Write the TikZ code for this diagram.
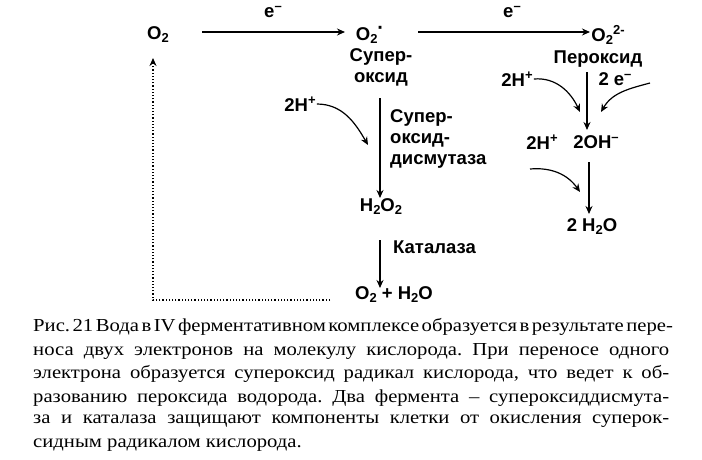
\documentclass[tikz,border=0pt]{standalone}
\usepackage{fontspec}
\setmainfont{Liberation Serif}
\newfontfamily\dsans{Liberation Sans}
\newfontfamily\capfont[FakeStretch=1.13]{Liberation Serif}
\usetikzlibrary{arrows.meta}
\newcommand\dn[1]{\raisebox{-3pt}{\fontsize{13}{13}\selectfont #1}}
\newcommand\up[1]{\raisebox{7pt}{\fontsize{13}{13}\selectfont #1}}
\newcommand\capline[1]{\spaceskip=3.5pt plus 20pt minus 1pt\relax\makebox[636pt][s]{#1}}
\begin{document}
\begin{tikzpicture}[x=1pt,y=-1pt,
  lab/.style={font=\dsans\bfseries\fontsize{18.5}{21}\selectfont,inner sep=1pt},
  arr/.style={-{Stealth[length=8pt,width=7pt]},line width=1.2pt},
  captxt/.style={font=\capfont\fontsize{18.3}{21}\selectfont\frenchspacing,anchor=west,inner sep=0pt}]
\fill[white] (0,0) rectangle (702,459);
\node[lab] (o2) at (158,35) {O\dn{2}};
\node[lab] (o2r) at (370,35) {O\dn{2}\raisebox{6pt}{\fontsize{20}{20}\selectfont·}};
\node[lab] (o2p) at (608,35) {O\dn{2}\up{2-}};
\node[lab,align=center] (sup) at (381,67) {Супер-\\оксид};
\node[lab] (per) at (598,59) {Пероксид};
\node[lab] (h1) at (300,104) {2H\up{+}};
\node[lab,align=left,anchor=west] (sod) at (389,139) {Супер-\\оксид-\\дисмутаза};
\node[lab] (h2o2) at (381,207) {H\dn{2}O\dn{2}};
\node[lab,anchor=west] (kat) at (392,247) {Каталаза};
\node[lab] (prod) at (394,295) {O\dn{2} + H\dn{2}O};
\node[lab] (h2) at (517,79) {2H\up{+}};
\node[lab] (e2) at (615,79) {2 e\up{–}};
\node[lab] (h3) at (542,142) {2H\up{+}};
\node[lab] (oh) at (596,142) {2OH\up{–}};
\node[lab] (w) at (592,227) {2 H\dn{2}O};
\node[lab] (e1) at (273,12) {e\up{–}};
\node[lab] (e3) at (512,12) {e\up{–}};
\coordinate (a1s) at (202,32); \coordinate (a1e) at (345,32);
\coordinate (a2s) at (418,32); \coordinate (a2e) at (590,32);
\draw[arr] (a1s) -- (a1e);
\draw[arr] (a2s) -- (a2e);
\draw[arr] (380,98) -- (380,198);
\draw[arr] (380,240) -- (380,288);
\draw[arr] (h1.east) to[out=0,in=120] (368,145);
\draw[arr] (587,72) -- (587,130);
\draw[arr] (h2.east) to[out=5,in=115] (580,112);
\draw[arr] (650,83) to[out=195,in=60] (601,112);
\draw[arr] (589,162) -- (589,214);
\draw[arr] (530,169) to[out=5,in=125] (580,192);
\draw[arr,dotted,line width=1.3pt] (330,300) -- (153,300) -- (153,58);
\node[captxt] (c1) at (33,327) {\capline{Рис. 21 Вода в IV ферментативном комплексе образуется в результате пере-}};
\node[captxt] (c2) at (33,351) {\capline{носа двух электронов на молекулу кислорода. При переносе одного}};
\node[captxt] (c3) at (33,374) {\capline{электрона образуется супероксид радикал кислорода, что ведет к об-}};
\node[captxt] (c4) at (33,398) {\capline{разованию пероксида водорода. Два фермента – супероксиддисмута-}};
\node[captxt] (c5) at (33,421) {\capline{за и каталаза защищают компоненты клетки от окисления суперок-}};
\node[captxt] (c6) at (33,445) {сидным радикалом кислорода.};
\end{tikzpicture}
\end{document}
